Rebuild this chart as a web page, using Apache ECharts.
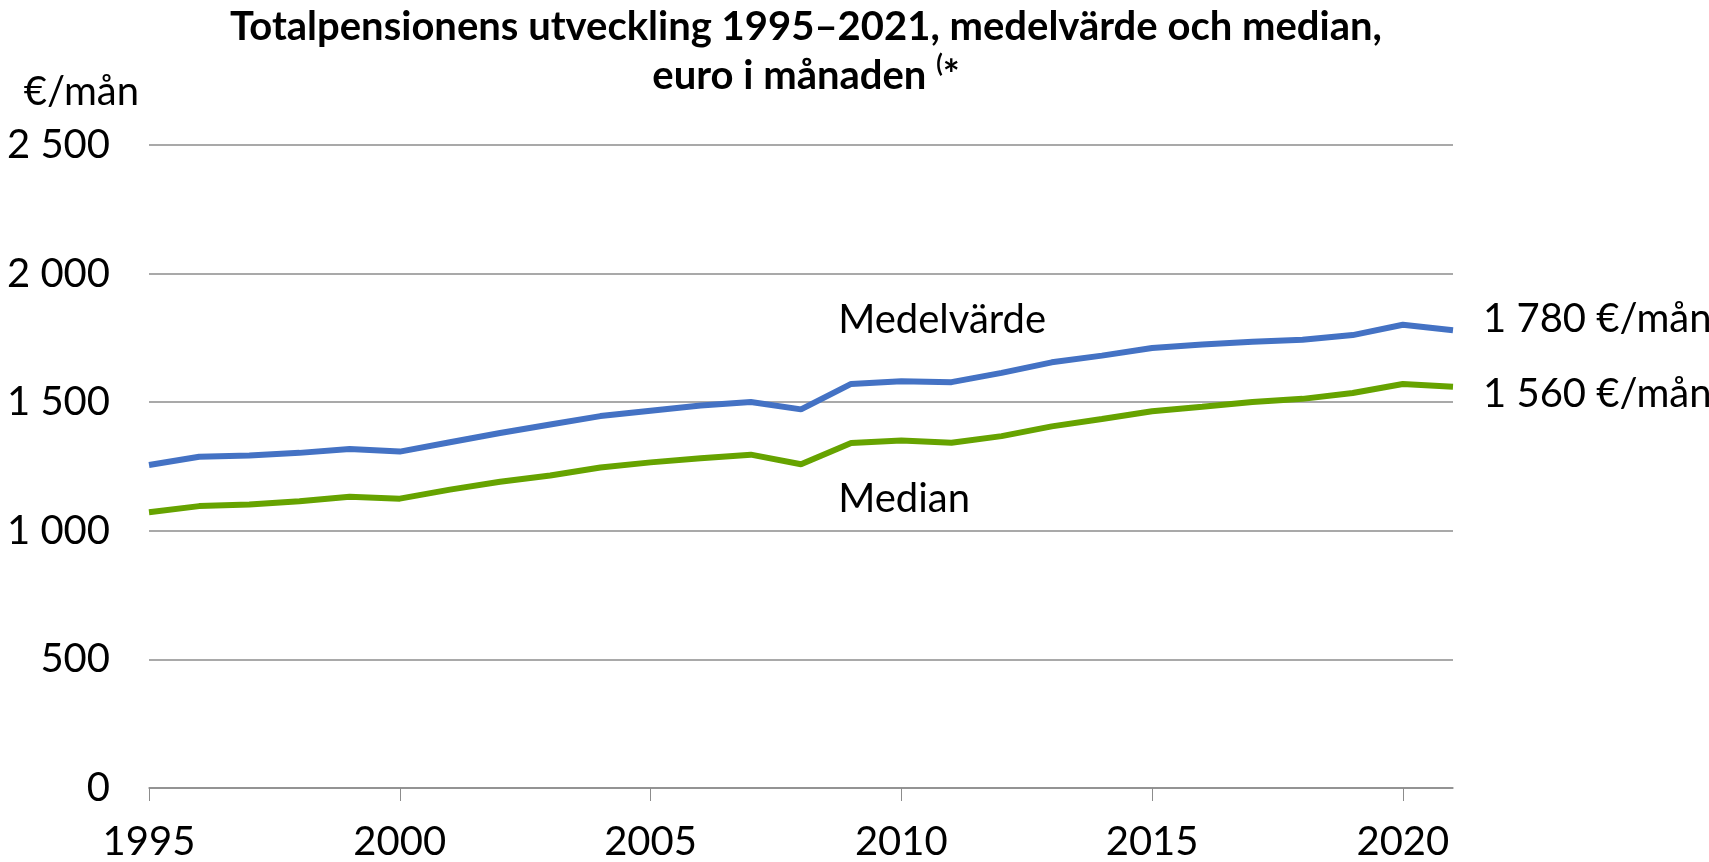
<html>
<head>
<meta charset="utf-8">
<script src="https://cdn.jsdelivr.net/npm/echarts@6/dist/echarts.min.js"></script>
<style>
  html, body { margin: 0; padding: 0; background: #fff; }
  #container { width: 1709px; height: 862px; }
</style>
</head>
<body>
<div id="container"></div>
<script>
const years = ['1995', '1996', '1997', '1998', '1999', '2000', '2001', '2002', '2003', '2004',
  '2005', '2006', '2007', '2008', '2009', '2010', '2011', '2012', '2013', '2014',
  '2015', '2016', '2017', '2018', '2019', '2020', '2021'];

// Medelvärde, euro i månaden
const meanValues = [1256, 1288, 1293, 1303, 1318, 1308, 1344, 1380, 1413, 1446,
  1467, 1487, 1501, 1472, 1571, 1581, 1578, 1614, 1655, 1681,
  1711, 1724, 1735, 1743, 1761, 1801, 1780];

// Median, euro i månaden
const medianValues = [1072, 1096, 1102, 1115, 1132, 1125, 1160, 1191, 1215, 1246,
  1266, 1282, 1296, 1259, 1341, 1351, 1342, 1368, 1406, 1435,
  1465, 1482, 1501, 1513, 1536, 1571, 1560];

const yTicks = [0, 500, 1000, 1500, 2000, 2500];

const FONT = 'Lato';

function fmt(v) {
  return String(v).replace(/\B(?=(\d{3})+(?!\d))/g, ' ');
}

let mychart = echarts.init(document.getElementById('container'));

var option = {
  animation: false,
  textStyle: { fontFamily: FONT },
  title: {
    text: 'Totalpensionens utveckling 1995–2021, medelvärde och median,\neuro i månaden {sup|(}*',
    left: 801,
    top: -2,
    textAlign: 'center',
    textStyle: {
      fontFamily: FONT,
      fontWeight: 'bold',
      fontSize: 40,
      lineHeight: 49,
      color: '#000',
      rich: {
        sup: { fontFamily: FONT, fontWeight: 'bold', fontSize: 24, verticalAlign: 'top', color: '#000' }
      }
    }
  },
  grid: {
    left: 149,
    right: 256,
    top: 145,
    bottom: 66,
    containLabel: false
  },
  xAxis: {
    type: 'category',
    data: years,
    boundaryGap: false,
    axisLine: { lineStyle: { color: '#8c8c8c', width: 1.5 } },
    axisTick: { interval: 4, length: 13, lineStyle: { color: '#8c8c8c', width: 1 } },
    axisLabel: { interval: 4, margin: 34, fontSize: 40, color: '#000', fontFamily: FONT }
  },
  yAxis: {
    type: 'value',
    min: yTicks[0],
    max: yTicks[yTicks.length - 1],
    interval: 500,
    name: '€/mån',
    nameLocation: 'end',
    nameGap: 33,
    nameTextStyle: { fontSize: 40, color: '#000', fontFamily: FONT, align: 'right', padding: [0, 10, 0, 0] },
    axisLine: { show: false },
    axisTick: { show: false },
    splitLine: { lineStyle: { color: '#8c8c8c', width: 1.5 } },
    axisLabel: {
      margin: 39,
      fontSize: 40,
      color: '#000',
      fontFamily: FONT,
      formatter: v => fmt(v)
    }
  },
  series: [
    {
      name: 'Medelvärde',
      type: 'line',
      data: meanValues,
      showSymbol: false,
      lineStyle: { color: '#4472C4', width: 6 },
      itemStyle: { color: '#4472C4' },
      endLabel: {
        show: true,
        distance: 30,
        offset: [0, -11],
        fontSize: 40,
        color: '#000',
        fontFamily: FONT,
        formatter: p => fmt(p.value) + ' €/mån'
      },
      markPoint: {
        symbolSize: 0,
        data: [{ coord: ['2009', 1821] }],
        label: {
          show: true,
          position: 'inside',
          align: 'left',
          offset: [-13, 0],
          fontSize: 40,
          color: '#000',
          fontFamily: FONT,
          formatter: 'Medelvärde'
        }
      }
    },
    {
      name: 'Median',
      type: 'line',
      data: medianValues,
      showSymbol: false,
      lineStyle: { color: '#66A300', width: 6 },
      itemStyle: { color: '#66A300' },
      endLabel: {
        show: true,
        distance: 30,
        offset: [0, 7],
        fontSize: 40,
        color: '#000',
        fontFamily: FONT,
        formatter: p => fmt(p.value) + ' €/mån'
      },
      markPoint: {
        symbolSize: 0,
        data: [{ coord: ['2009', 1124] }],
        label: {
          show: true,
          position: 'inside',
          align: 'left',
          offset: [-13, 0],
          fontSize: 40,
          color: '#000',
          fontFamily: FONT,
          formatter: 'Median'
        }
      }
    }
  ]
};

mychart.setOption(option);
</script>
</body>
</html>
